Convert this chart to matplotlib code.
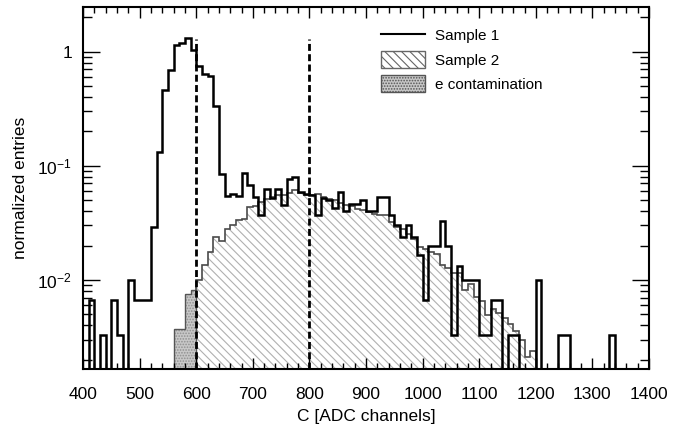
import numpy as np
import matplotlib
matplotlib.use("Agg")
import matplotlib.pyplot as plt
import matplotlib.ticker as mticker
from matplotlib.lines import Line2D
from matplotlib.patches import Patch

plt.rcParams['font.family'] = ['Liberation Sans', 'DejaVu Sans']
plt.rcParams['mathtext.fontset'] = 'custom'
plt.rcParams['mathtext.rm'] = 'Liberation Sans'
plt.rcParams['mathtext.it'] = 'Liberation Sans:italic'
plt.rcParams['hatch.linewidth'] = 0.8

# --- data: 10-channel bins ---
edges_s1 = np.arange(400, 1401, 10)
sample1 = [
    0, 0.0067, 0, 0.0033, 0, 0.0067, 0.0033, 0, 0.010, 0.0067,          # 400-
    0.0067, 0.0067, 0.029, 0.133, 0.46, 0.69, 1.15, 1.18, 1.31, 1.03,    # 500-
    0.75, 0.64, 0.61, 0.334, 0.085, 0.054, 0.057, 0.054, 0.086, 0.068,   # 600-
    0.0535, 0.037, 0.0625, 0.052, 0.0625, 0.045, 0.076, 0.080, 0.059, 0.057,  # 700-
    0.056, 0.037, 0.052, 0.050, 0.043, 0.059, 0.040, 0.046, 0.046, 0.050,     # 800-
    0.040, 0.040, 0.0535, 0.0535, 0.037, 0.030, 0.0238, 0.030, 0.0238, 0.0165, # 900-
    0.0067, 0.020, 0.020, 0.033, 0.020, 0.0033, 0.0133, 0.010, 0.010, 0.010,  # 1000-
    0.0033, 0.0033, 0.0067, 0.0067, 0, 0.0033, 0.0033, 0, 0, 0,          # 1100-
    0.010, 0, 0, 0, 0.0033, 0.0033, 0, 0, 0, 0,                          # 1200-
    0, 0, 0, 0.0033, 0, 0, 0, 0, 0, 0,                                   # 1300-
]

edges_s2 = np.arange(600, 1201, 10)
sample2 = [
    0.010, 0.0135, 0.0176, 0.024, 0.022, 0.028, 0.030, 0.0333, 0.034, 0.0435,  # 600-
    0.0445, 0.048, 0.051, 0.053, 0.055, 0.055, 0.058, 0.061, 0.058, 0.055,     # 700-
    0.056, 0.057, 0.053, 0.051, 0.050, 0.047, 0.045, 0.044, 0.042, 0.041,      # 800-
    0.039, 0.038, 0.037, 0.037, 0.032, 0.029, 0.028, 0.0255, 0.023, 0.0195,    # 900-
    0.0185, 0.0176, 0.017, 0.0135, 0.0127, 0.0115, 0.0115, 0.0081, 0.0093, 0.0071,  # 1000-
    0.0066, 0.0049, 0.0056, 0.0051, 0.0046, 0.0041, 0.0036, 0.0030, 0.0021, 0.0024, # 1100-
]

edges_e = np.arange(560, 601, 10)
e_contam = [0.0037, 0.0037, 0.0075, 0.0081]

cut_lines = [600, 800]

FLOOR = 1e-4  # empty bins drawn below the visible range


def nonzero(vals):
    v = np.asarray(vals, dtype=float)
    return np.where(v > 0, v, FLOOR)


def log_label(v, pos=None):
    if np.isclose(v, 1):
        return '1'
    return r'$\mathregular{10^{%d}}$' % round(np.log10(v))


fig = plt.figure(figsize=(6.89, 4.29), dpi=100)
ax = fig.add_axes([0.1205, 0.140, 0.8215, 0.8437])
ax.set_yscale('log')
ax.set_xlim(400, 1400)
ax.set_ylim(0.00166, 2.46)

# Sample 2: hatched area + outline
ax.stairs(nonzero(sample2), edges_s2, baseline=FLOOR, fill=True,
          facecolor='none', edgecolor='#b0b0b0', hatch='\\\\\\\\', linewidth=0)
ax.stairs(nonzero(sample2), edges_s2, baseline=FLOOR, color='#4a4a4a', lw=1.2)

# e contamination: stippled grey
ax.stairs(nonzero(e_contam), edges_e, baseline=FLOOR, fill=True,
          facecolor='#c8c8c8', edgecolor='#909090', hatch='......', linewidth=0)
ax.stairs(nonzero(e_contam), edges_e, baseline=FLOOR, color='#555555', lw=1.0)

# Sample 1 outline
ax.stairs(nonzero(sample1), edges_s1, baseline=FLOOR, color='black', lw=1.8)

# cut lines
ax.vlines(cut_lines, 0.00166, 1.3, colors='black', linestyles=(0, (2.5, 1.2)), lw=2)

# axes styling (ROOT-like)
for sp in ax.spines.values():
    sp.set_linewidth(1.5)
ax.xaxis.set_major_locator(mticker.MultipleLocator(100))
ax.xaxis.set_minor_locator(mticker.MultipleLocator(20))
ax.yaxis.set_major_locator(mticker.FixedLocator([0.01, 0.1, 1]))
ax.yaxis.set_minor_locator(mticker.LogLocator(subs=np.arange(2, 10)))
ax.yaxis.set_major_formatter(mticker.FuncFormatter(log_label))
ax.yaxis.set_minor_formatter(mticker.NullFormatter())
ax.tick_params(which='both', direction='in', top=True, right=True, width=1,
               labelsize=12.5, colors='black')
ax.tick_params(axis='x', which='major', length=8, pad=13)
ax.tick_params(axis='x', which='minor', length=4.5)
ax.tick_params(axis='y', which='major', length=12, pad=8)
ax.tick_params(axis='y', which='minor', length=6.5)

ax.set_xlabel('C [ADC channels]', fontsize=12.5)
ax.set_ylabel('normalized entries', fontsize=12.5)
ax.xaxis.set_label_coords(0.5, -0.11)
ax.yaxis.set_label_coords(-0.098, 0.5)

handles = [
    Line2D([], [], color='black', lw=1.5),
    Patch(facecolor='white', edgecolor='#666666', hatch='\\\\\\\\', lw=1),
    Patch(facecolor='#c8c8c8', edgecolor='#555555', hatch='......', lw=1),
]
labels = ['Sample 1', 'Sample 2', 'e contamination']
ax.legend(handles, labels, loc='upper left', bbox_to_anchor=(0.515, 0.962),
          frameon=False, fontsize=11, handlelength=2.9, handleheight=1.3,
          handletextpad=0.65, labelspacing=0.5, borderaxespad=0)

fig.savefig('out.png', dpi=100)
